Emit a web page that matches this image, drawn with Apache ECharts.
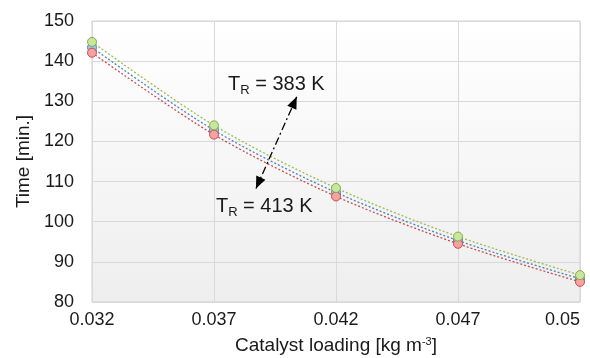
<!DOCTYPE html>
<html><head><meta charset="utf-8">
<script src="https://cdn.jsdelivr.net/npm/echarts@6/dist/echarts.min.js"></script>
<style>html,body{margin:0;padding:0;background:#fff}#c{width:590px;height:358px}</style>
</head><body><div id="c"></div>
<script>
var categories = ['0.032', '0.037', '0.042', '0.047', '0.05'];
var t383 = [144.8, 124.0, 108.4, 96.3, 86.7];
var t398 = [143.4, 122.8, 107.3, 95.3, 85.8];
var t413 = [142.1, 121.7, 106.3, 94.5, 85.0];
var yTicks = [80, 90, 100, 110, 120, 130, 140, 150];
var annot383 = 'T{s|R} = 383 K';
var annot413 = 'T{s|R} = 413 K';

var FONT = 'Liberation Sans, Arial, sans-serif';
var chart = echarts.init(document.getElementById('c'), null, {renderer: 'canvas'});

function ser(name, data, line, fill, border, z) {
  return {
    name: name, type: 'line', data: data, smooth: 0.3, z: z,
    symbol: 'circle', symbolSize: 9,
    lineStyle: {color: line, width: 1.3, type: [2, 2]},
    itemStyle: {color: fill, borderColor: border, borderWidth: 1}
  };
}

var option = {
  animation: false,
  grid: {left: 92, right: 10, top: 21, bottom: 56, containLabel: false, outerBoundsMode: 'none',
    show: true, borderColor: '#d0d0d0', borderWidth: 1,
    backgroundColor: new echarts.graphic.LinearGradient(0, 0, 0, 1, [{offset: 0, color: '#ffffff'}, {offset: 1, color: '#eeeeee'}])},
  xAxis: {
    type: 'category', data: categories, boundaryGap: false,
    name: 'Catalyst loading [kg m{sup|-3}]', nameLocation: 'middle', nameGap: 34,
    nameTextStyle: {fontFamily: FONT, fontSize: 19, color: '#1a1a1a', rich: {sup: {fontSize: 11, verticalAlign: 'top', padding: [0, 0, 9, 0], fontFamily: FONT, color: '#1a1a1a'}}},
    axisLine: {show: false}, axisTick: {show: false},
    axisLabel: {fontFamily: FONT, fontSize: 18, color: '#1a1a1a', margin: 9, alignMaxLabel: 'right'},
    splitLine: {show: true, lineStyle: {color: '#d9d9d9', width: 1}}
  },
  yAxis: {
    type: 'value', min: 80, max: 150, interval: 10,
    name: 'Time [min.]', nameLocation: 'middle', nameGap: 51,
    nameTextStyle: {fontFamily: FONT, fontSize: 19, color: '#1a1a1a'},
    axisLine: {show: false}, axisTick: {show: false},
    axisLabel: {fontFamily: FONT, fontSize: 18, color: '#1a1a1a', margin: 18,
      formatter: function (v) { return yTicks.indexOf(v) >= 0 ? String(v) : ''; }},
    splitLine: {show: true, lineStyle: {color: '#d9d9d9', width: 1}}
  },
  series: [
    ser('413 K', t413, '#c0504d', '#f4a3a3', '#c0504d', 3),
    ser('398 K', t398, '#4f81bd', '#a7c0e3', '#4f81bd', 2),
    ser('383 K', t383, '#9bbb59', '#c9e6a0', '#86ac47', 4)
  ]
};
chart.setOption(option);

// annotations positioned in data coordinates (fractional category index interpolated)
function px(idx, val) {
  var i0 = Math.floor(idx), f = idx - i0;
  var p0 = chart.convertToPixel({gridIndex: 0}, [i0, val]);
  var p1 = chart.convertToPixel({gridIndex: 0}, [i0 + 1, val]);
  return [p0[0] + (p1[0] - p0[0]) * f, p0[1]];
}
var a1 = px(1.678, 131.1), a2 = px(1.344, 108.25);
var l1 = px(1.115, 134.2), l2 = px(1.016, 103.7);
var richStyle = {s: {fontSize: 13, verticalAlign: 'bottom', padding: [12, 0, 0, 0], fontFamily: FONT, fill: '#1a1a1a'}};
function headPts(from, to) {
  var dx = to[0] - from[0], dy = to[1] - from[1], L = Math.sqrt(dx * dx + dy * dy);
  var ux = dx / L, uy = dy / L, len = 12, w = 5;
  var bx = to[0] - ux * len, by = to[1] - uy * len;
  return [[to[0], to[1]], [bx - uy * w, by + ux * w], [bx + uy * w, by - ux * w]];
}
chart.setOption({graphic: [
  {type: 'line', shape: {x1: a2[0], y1: a2[1], x2: a1[0], y2: a1[1]}, style: {stroke: '#000', lineWidth: 1.3, lineDash: [8, 3, 2, 3]}, z: 100},
  {type: 'polygon', shape: {points: headPts(a2, a1)}, style: {fill: '#000'}, z: 100},
  {type: 'polygon', shape: {points: headPts(a1, a2)}, style: {fill: '#000'}, z: 100},
  {type: 'text', x: l1[0], y: l1[1], style: {text: annot383, fontFamily: FONT, fontSize: 20, fill: '#1a1a1a', verticalAlign: 'middle', rich: richStyle}, z: 100},
  {type: 'text', x: l2[0], y: l2[1], style: {text: annot413, fontFamily: FONT, fontSize: 20, fill: '#1a1a1a', verticalAlign: 'middle', rich: richStyle}, z: 100}
]});
</script></body></html>
